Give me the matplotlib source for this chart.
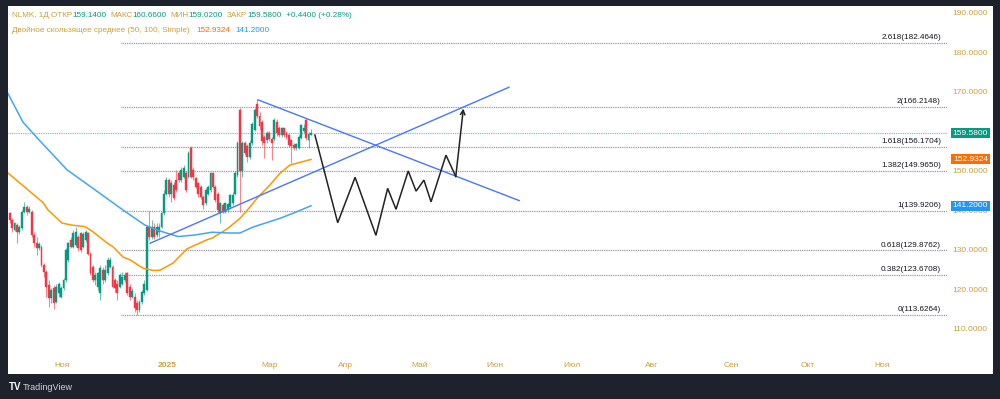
import matplotlib
matplotlib.use("Agg")
import matplotlib.pyplot as plt
import matplotlib.transforms as mtransforms
from matplotlib.patches import Rectangle
import numpy as np

plt.rcParams["font.family"] = ["Liberation Sans", "DejaVu Sans"]

# ------------------------------------------------------------
# data (daily candles, NLMK)
# ------------------------------------------------------------
opens = [139.3, 137.6, 135.1, 136.3, 134.6, 135.5, 139.7, 141.0, 139.7, 139.7,
         133.8, 131.7, 130.4, 130.8, 126.2, 124.5, 121.1, 117.8, 120.3, 116.9,
         119.0, 118.2, 120.3, 122.4, 127.5, 132.5, 130.8, 131.3, 133.4, 134.2,
         130.8, 132.5, 134.2, 129.1, 125.8, 122.4, 120.7, 119.0, 124.9, 122.4,
         124.1, 125.8, 125.8, 122.4, 121.5, 120.7, 121.5, 122.4, 124.1, 120.7,
         118.2, 118.2, 116.5, 114.8, 116.9, 119.0, 119.9, 135.9, 133.4, 135.9,
         133.8, 134.6, 135.9, 139.3, 144.3, 147.7, 144.3, 146.5, 147.7, 149.4,
         147.7, 148.6, 149.4, 148.6, 155.7, 150.3, 148.1, 146.9, 146.0, 143.5,
         141.8, 144.3, 145.2, 149.4, 146.0, 144.3, 139.3, 141.4, 139.7, 140.0,
         141.0, 142.0, 144.3, 149.0, 165.5, 150.0, 157.0, 156.2, 153.6, 157.0,
         160.5, 167.0, 164.0, 162.5, 158.7, 157.8, 159.7, 158.0, 158.0, 162.5,
         161.0, 159.1, 160.8, 159.5, 159.1, 157.8, 156.6, 155.7, 155.9, 158.3,
         160.0, 162.9, 157.8, 159.14]
highs = [139.7, 138.0, 137.2, 136.8, 136.3, 140.1, 142.2, 141.4, 141.1, 140.1,
         134.6, 133.4, 132.1, 131.3, 126.8, 124.9, 122.4, 120.3, 121.1, 121.5,
         121.8, 120.8, 122.8, 130.4, 132.1, 133.4, 135.1, 135.9, 133.8, 134.6,
         134.6, 135.1, 134.6, 129.6, 126.2, 124.5, 124.5, 126.2, 125.8, 126.2,
         128.3, 128.3, 126.2, 122.8, 122.4, 124.1, 124.5, 124.5, 124.5, 121.5,
         120.3, 119.0, 117.3, 117.3, 119.8, 122.4, 136.3, 139.92, 137.6, 136.8,
         136.8, 136.8, 139.7, 145.2, 148.6, 148.1, 147.7, 147.3, 150.3, 150.0,
         151.0, 151.5, 150.0, 155.0, 156.2, 151.1, 148.6, 147.3, 146.5, 144.0,
         145.6, 146.5, 149.8, 149.8, 146.5, 144.8, 142.2, 141.8, 142.2, 142.0,
         144.3, 144.8, 150.0, 157.5, 166.0, 157.5, 157.5, 156.8, 157.8, 162.5,
         166.0, 168.1, 165.0, 163.0, 159.0, 160.0, 160.2, 158.5, 163.5, 163.2,
         161.5, 161.2, 161.0, 160.0, 159.5, 158.2, 157.0, 157.2, 159.0, 162.0,
         161.8, 163.3, 159.8, 160.66]
lows = [136.9, 134.6, 134.8, 131.7, 134.0, 135.1, 139.3, 138.9, 139.3, 133.4,
        130.8, 128.7, 130.0, 125.8, 123.2, 118.2, 115.6, 116.5, 115.0, 116.5,
        118.2, 117.8, 119.9, 122.0, 127.0, 130.4, 130.4, 130.8, 129.8, 129.6,
        130.4, 132.1, 128.7, 123.7, 122.0, 121.1, 119.9, 117.3, 121.5, 122.0,
        123.7, 125.4, 120.3, 119.4, 117.3, 120.3, 121.1, 122.0, 118.6, 117.3,
        117.8, 114.4, 113.63, 114.4, 116.3, 118.6, 119.7, 132.5, 132.7, 132.7,
        133.4, 133.2, 135.5, 138.9, 143.9, 143.5, 142.2, 142.7, 144.8, 147.3,
        147.3, 148.1, 144.8, 148.1, 148.1, 147.7, 145.6, 143.5, 143.0, 140.5,
        141.4, 143.9, 144.8, 145.6, 142.2, 139.3, 136.8, 139.3, 139.3, 139.5,
        140.5, 141.5, 143.9, 148.6, 139.6, 148.5, 154.0, 152.4, 153.0, 156.5,
        160.0, 163.5, 160.5, 156.5, 153.2, 157.0, 157.5, 152.8, 157.5, 158.8,
        158.5, 158.7, 158.5, 158.0, 156.0, 152.0, 155.2, 155.3, 155.5, 158.0,
        159.5, 157.8, 155.8, 159.02]
closes = [137.6, 135.5, 136.8, 134.6, 135.9, 139.7, 141.0, 139.7, 140.5, 133.8,
          131.7, 130.4, 131.5, 126.2, 124.5, 120.7, 117.8, 119.9, 116.5, 120.7,
          121.5, 120.3, 122.4, 130.0, 131.7, 130.8, 134.2, 134.6, 130.4, 130.0,
          134.0, 134.6, 129.1, 124.1, 122.4, 123.7, 124.1, 125.4, 122.4, 124.9,
          127.5, 127.5, 120.7, 120.3, 119.0, 123.7, 123.2, 123.7, 119.0, 118.2,
          119.7, 115.2, 114.8, 116.9, 119.4, 121.5, 135.9, 133.4, 135.9, 133.4,
          135.9, 135.9, 139.3, 144.3, 147.7, 144.3, 146.9, 143.1, 145.2, 147.7,
          150.3, 150.7, 145.2, 154.5, 148.6, 148.6, 146.0, 144.3, 143.5, 141.4,
          145.2, 146.0, 149.4, 146.0, 142.7, 140.1, 141.8, 139.7, 141.8, 141.6,
          143.9, 144.0, 149.4, 157.0, 150.0, 157.0, 154.5, 153.6, 157.0, 162.0,
          165.5, 164.0, 161.5, 157.5, 157.0, 159.5, 158.0, 157.0, 162.9, 159.5,
          159.1, 160.8, 159.1, 158.7, 156.6, 156.2, 155.7, 156.8, 158.7, 161.6,
          161.0, 158.3, 159.3, 159.58]

# moving averages (50 / 100, simple), vertices
ma50_x = [-1.1, 5.4, 7.5, 13.6, 15.7, 21.4, 25.4, 30.8, 34.0, 39.7, 42.2, 46.3,
          49.1, 54.4, 58.5, 61.4, 66.7, 72.4, 80.6, 82.6, 88.7, 94.0, 96.9,
          101.0, 106.3, 110.3, 114.4, 123]
ma50_y = [149.7, 146.3, 145.2, 142.0, 140.1, 136.8, 136.3, 135.9, 134.6, 131.8,
          130.8, 128.2, 127.5, 125.4, 124.8, 124.9, 126.7, 130.3, 132.6, 133.0,
          135.3, 138.0, 140.0, 143.1, 146.5, 149.4, 151.5, 152.9324]
ma100_x = [-1.1, 5.4, 11.2, 23.4, 34.0, 46.3, 55.2, 61.4, 68.7, 75.7, 82.6,
           89.1, 94.0, 99.3, 110.3, 116.5, 123]
ma100_y = [170.1, 162.4, 158.4, 150.3, 145.6, 140.1, 136.3, 134.8, 133.4, 133.8,
           134.5, 134.3, 134.3, 135.8, 138.0, 139.5, 141.2]

last_close = 159.58
ma50_last = 152.9324
ma100_last = 141.2

# fibonacci extension levels
fib_ratios = ["2.618", "2", "1.618", "1.382", "1", "0.618", "0.382", "0"]
fib_values = [182.4646, 166.2148, 156.1704, 149.9650, 139.9206, 129.8762,
              123.6708, 113.6264]
fib_start = 45.4

# hand drawn trend lines and projected path
down_line_x = [101.4, 208.0]
down_line_y = [168.0, 142.5]
up_line_x = [57.3, 203.8]
up_line_y = [131.7, 171.2]
path_x = [124.6, 133.9, 141.0, 149.5, 154.3, 157.7, 162.7, 165.9, 169.1, 172.0,
          178.1, 182.1, 185.2]
path_y = [159.1, 136.9, 148.4, 133.7, 145.6, 140.3, 150.0, 144.9, 147.7, 142.2,
          154.0, 148.6, 165.8]

# time axis
month_pos = [21.4, 64.2, 106.3, 136.9, 167.5, 198.1, 229.5, 262.2, 294.4,
             325.9, 356.1]
month_labels = ["Ноя", "2025", "Мар", "Апр", "Май", "Июн", "Июл", "Авг",
                "Сен", "Окт", "Ноя"]
price_ticks = [110, 120, 130, 140, 150, 160, 170, 180, 190]

# ------------------------------------------------------------
# styles
# ------------------------------------------------------------
GREEN = "#089981"
RED = "#f23645"
GOLD = "#c9a03c"
ORANGE_LINE = "#ff9800"
ORANGE_BOX = "#ff6d00"
BLUE_LINE = "#42a5f5"
BLUE_BOX = "#2196f3"
TREND = "#4a76ff"
FS = 5.9

W, H = 1000, 399


def fx(px):
    return px / W


def fy(py):
    return 1 - py / H


fig = plt.figure(figsize=(10, 3.99), dpi=100)
fig.patch.set_facecolor("#1e222d")
fig.patches.append(Rectangle((fx(8), fy(374)), fx(993) - fx(8), fy(6) - fy(374),
                             transform=fig.transFigure, facecolor="white",
                             edgecolor="none", zorder=-10))

ax = fig.add_axes([fx(8), fy(356), fx(947) - fx(8), fy(6) - fy(356)])
ax.set_facecolor("white")
for s in ax.spines.values():
    s.set_visible(False)

ax.set_xlim(-0.67, 382.6)
ax.set_ylim(103.16, 191.77)

blend = mtransforms.blended_transform_factory(ax.transAxes, ax.transData)

# current price line
ax.axhline(last_close, color=GREEN, lw=0.9, alpha=0.6, dashes=(0.72, 0.72), zorder=1)

# fib levels
for r, v in zip(fib_ratios, fib_values):
    ax.plot([fib_start, 382.6], [v, v], color="#8a8c93", lw=0.9,
            dashes=(0.72, 0.72), zorder=1)
    ax.annotate(f"{r}({v:.4f})", xy=(0.9936, v), xycoords=blend,
                xytext=(0, 1.3), textcoords="offset points",
                ha="right", va="bottom", fontsize=FS, color="#131722")

# candles
o = np.array(opens)
h = np.array(highs)
l = np.array(lows)
c = np.array(closes)
idx = np.arange(len(c))
cols = np.where(c >= o, GREEN, RED)
ax.vlines(idx, l, h, colors=cols, lw=0.8, alpha=0.6, zorder=2)
body = np.maximum(np.abs(c - o), 0.3)
ax.bar(idx, body, bottom=np.minimum(o, c), width=0.78, color=cols,
       edgecolor=cols, linewidth=0.3, zorder=3)

# moving averages
ax.plot(ma50_x, ma50_y, color=ORANGE_LINE, lw=1.1, zorder=4)
ax.plot(ma100_x, ma100_y, color=BLUE_LINE, lw=1.1, zorder=4)

# trend lines
ax.plot(down_line_x, down_line_y, color=TREND, lw=1.0, zorder=4)
ax.plot(up_line_x, up_line_y, color=TREND, lw=1.0, zorder=4)

# projected path with arrow
ax.plot(path_x[:-1], path_y[:-1], color="#222222", lw=1.1, zorder=5,
        solid_joinstyle="miter")
ax.annotate("", xy=(path_x[-1], path_y[-1]), xytext=(path_x[-2], path_y[-2]),
            arrowprops=dict(arrowstyle="->", color="#222222", lw=1.1,
                            shrinkA=0, shrinkB=0, mutation_scale=8),
            zorder=5)

# axes ticks
ax.yaxis.tick_right()
ax.set_yticks(price_ticks)
ax.set_yticklabels([f"{v:.4f}" for v in price_ticks])
ax.tick_params(axis="y", length=0, pad=3.5, labelcolor=GOLD, labelsize=6)
ax.set_xticks(month_pos)
ax.set_xticklabels(month_labels)
ax.tick_params(axis="x", length=0, pad=4, labelcolor=GOLD, labelsize=6)
for t in ax.get_xticklabels():
    if t.get_text() == "2025":
        t.set_fontweight("bold")

# price label boxes on the scale
for val, col in [(last_close, GREEN), (ma50_last, ORANGE_BOX), (ma100_last, BLUE_BOX)]:
    ax.add_patch(Rectangle((1.0039, val - 1.27), 0.0419, 2.54, transform=blend,
                           facecolor=col, edgecolor="none", clip_on=False, zorder=8))
    ax.text(1.0249, val, f"{val:.4f}", transform=blend, ha="center", va="center",
            color="white", fontsize=6, zorder=9, clip_on=False)


def chain(parts, px_x, px_y):
    # each segment: (text, colour, gap in px before it)
    renderer = fig.canvas.get_renderer()
    x = px_x
    for s, col, gap in parts:
        x += gap
        t = fig.text(fx(x), fy(px_y), s, color=col, fontsize=FS, ha="left",
                     va="center")
        x += t.get_window_extent(renderer=renderer).width


chain([("NLMK, 1Д ОТКР", GOLD, 0), ("159.1400", GREEN, 0),
       ("МАКС", GOLD, 4), ("160.6600", GREEN, 0),
       ("МИН", GOLD, 4), ("159.0200", GREEN, 0),
       ("ЗАКР", GOLD, 4), ("159.5800", GREEN, 0),
       ("+0.4400 (+0.28%)", GREEN, 4)], 12, 15.5)
chain([("Двойное скользящее среднее (50, 100, Simple)", GOLD, 0),
       ("152.9324", ORANGE_BOX, 7), ("141.2000", BLUE_BOX, 5)], 12, 30)

# footer logo
fig.text(fx(9), fy(387), "TV", fontsize=7, fontweight="bold", color="white",
         ha="left", va="center")
fig.text(fx(23), fy(387), "TradingView", fontsize=6.5, color="#d1d4dc",
         ha="left", va="center")

fig.savefig("out.png", dpi=100, facecolor=fig.get_facecolor())
